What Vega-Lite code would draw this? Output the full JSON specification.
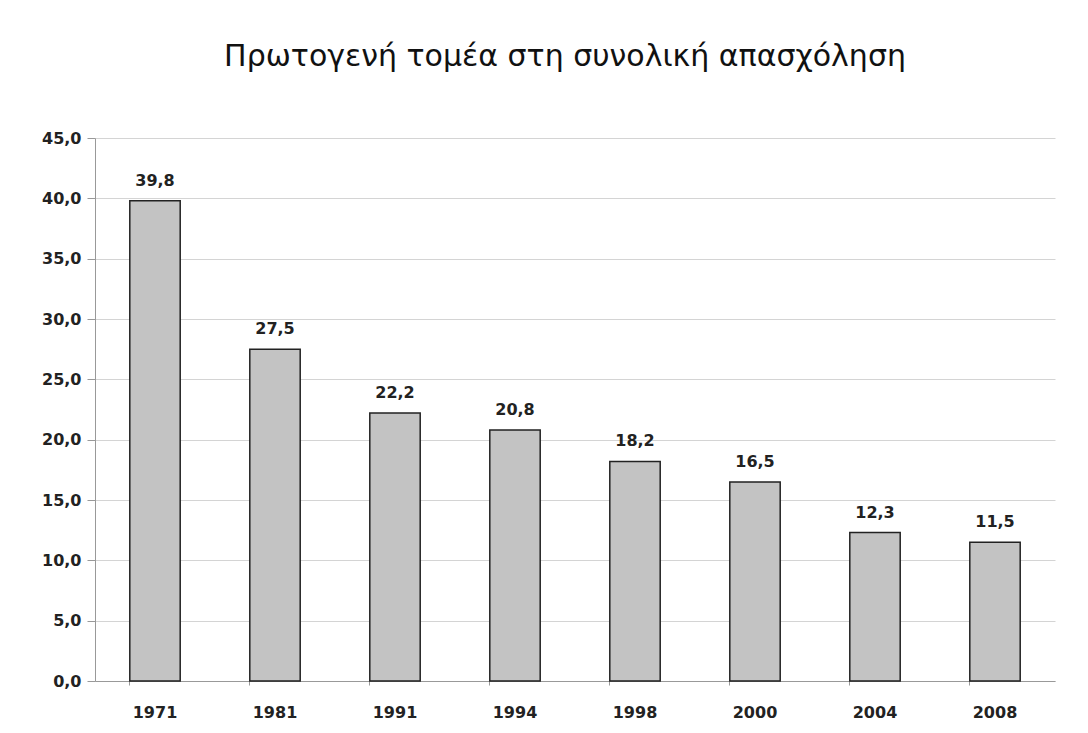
{
  "$schema": "https://vega.github.io/schema/vega-lite/v6.json",
  "width": 960,
  "height": 543,
  "autosize": "none",
  "padding": {"left": 95, "top": 138, "right": 33, "bottom": 52},
  "background": "white",
  "title": {
    "text": "Πρωτογενή τομέα στη συνολική απασχόληση",
    "font": "DejaVu Sans",
    "fontSize": 30,
    "fontWeight": "normal",
    "color": "#111",
    "anchor": "middle",
    "dx": -10,
    "offset": 58
  },
  "config": {
    "locale": {"number": {"decimal": ",", "thousands": ".", "grouping": [3], "currency": ["", "€"]}},
    "view": {"stroke": null},
    "axis": {"labelFont": "DejaVu Sans", "labelFontWeight": "bold", "labelFontSize": 16, "labelColor": "#222"}
  },
  "data": {
    "values": [
      {"year": "1971", "value": 39.8},
      {"year": "1981", "value": 27.5},
      {"year": "1991", "value": 22.2},
      {"year": "1994", "value": 20.8},
      {"year": "1998", "value": 18.2},
      {"year": "2000", "value": 16.5},
      {"year": "2004", "value": 12.3},
      {"year": "2008", "value": 11.5}
    ]
  },
  "encoding": {
    "x": {
      "field": "year", "type": "nominal", "sort": null,
      "scale": {"paddingInner": 0.58, "paddingOuter": 0.29},
      "axis": {"title": null, "labelAngle": 0, "labelPadding": 19, "domainColor": "#999", "tickColor": "#999", "tickSize": 4, "bandPosition": 0}
    },
    "y": {
      "field": "value", "type": "quantitative",
      "scale": {"domain": [0, 45]},
      "axis": {"title": null, "values": [0,5,10,15,20,25,30,35,40,45], "format": ".1f", "gridColor": "#d4d4d4", "domainColor": "#999", "tickColor": "#999", "tickSize": 8, "labelPadding": 6}
    }
  },
  "layer": [
    {"mark": {"type": "bar", "fill": "#c3c3c3", "stroke": "#222", "strokeWidth": 1.5}},
    {"mark": {"type": "text", "dy": -20, "font": "DejaVu Sans", "fontWeight": "bold", "fontSize": 16, "color": "#222"},
     "encoding": {"text": {"field": "value", "type": "quantitative", "format": ".1f"}}}
  ]
}
